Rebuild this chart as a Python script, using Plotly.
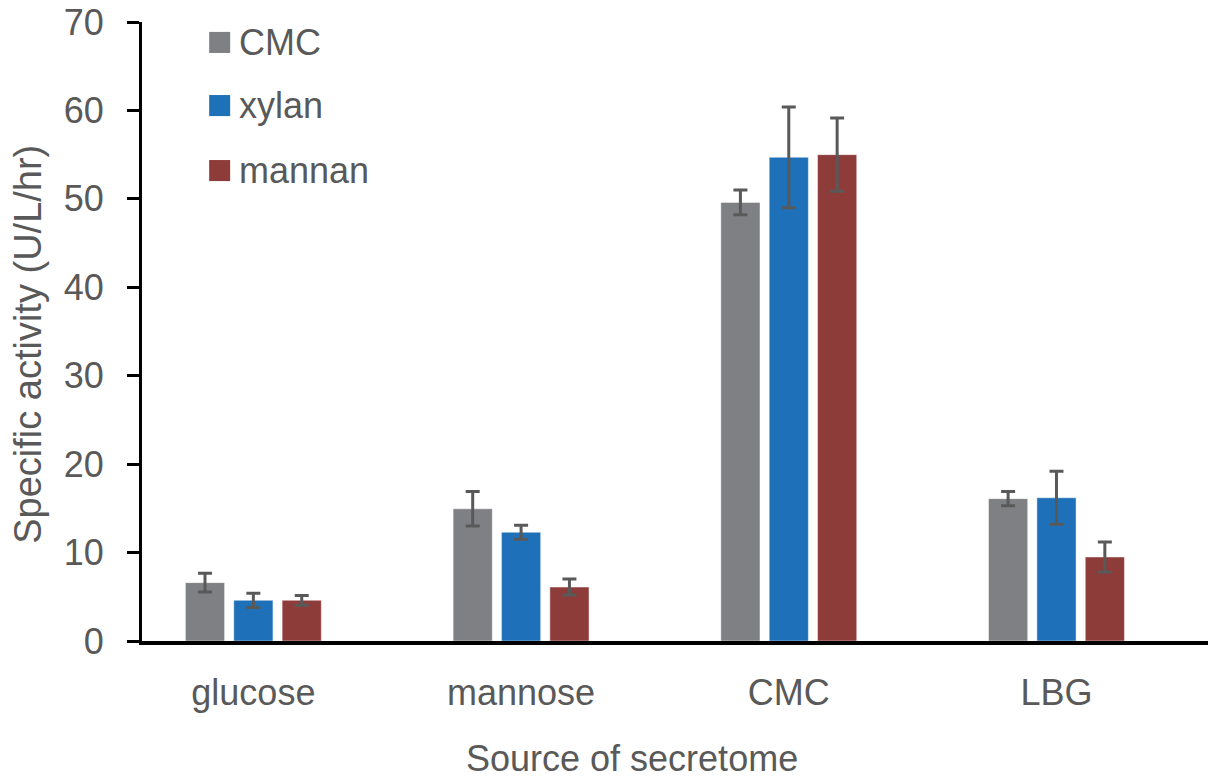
import plotly.graph_objects as go

# Secretome source (x categories) and substrate assayed (series)
sources = ["glucose", "mannose", "CMC", "LBG"]
series_names = ["CMC", "xylan", "mannan"]

cmc_activity = [6.6, 14.95, 49.6, 16.1]
xylan_activity = [4.6, 12.3, 54.7, 16.2]
mannan_activity = [4.6, 6.1, 55.0, 9.5]

cmc_err = [1.05, 1.95, 1.4, 0.8]
xylan_err = [0.8, 0.8, 5.7, 3.0]
mannan_err = [0.55, 0.9, 4.15, 1.7]

y_ticks = [0, 10, 20, 30, 40, 50, 60, 70]

colors = ["#7f8083", "#1e70b8", "#8e3c39"]
text_color = "#595959"
font_family = "Arial, Liberation Sans, sans-serif"

values = [cmc_activity, xylan_activity, mannan_activity]
errors = [cmc_err, xylan_err, mannan_err]

fig = go.Figure()
for name, vals, errs, col in zip(series_names, values, errors, colors):
    fig.add_trace(go.Bar(
        name=name,
        x=sources,
        y=vals,
        marker=dict(color=col, line=dict(color="rgba(255,255,255,0.45)", width=1)),
        error_y=dict(type="data", array=errs, visible=True,
                     color="#595959", thickness=3, width=7),
        showlegend=False,
    ))

# Legend drawn as swatches + labels
legend_y = [0.967, 0.865, 0.76]
for name, col, ly in zip(series_names, colors, legend_y):
    fig.add_shape(type="rect", xref="paper", yref="paper",
                  x0=0.0630, x1=0.0827, y0=ly - 0.0170, y1=ly + 0.0170,
                  fillcolor=col, line=dict(width=0))
    fig.add_annotation(xref="paper", yref="paper", x=0.0895, y=ly,
                       xanchor="left", yanchor="middle", showarrow=False,
                       text=name, font=dict(size=36, color=text_color, family=font_family))

# Axis titles
fig.add_annotation(xref="paper", yref="paper", x=-0.107, y=0.480,
                   xanchor="center", yanchor="middle", showarrow=False,
                   textangle=-90, text="Specific activity (U/L/hr)",
                   font=dict(size=38, color=text_color, family=font_family))
fig.add_annotation(xref="paper", yref="paper", x=0.460, y=-0.190,
                   xanchor="center", yanchor="middle", showarrow=False,
                   text="Source of secretome",
                   font=dict(size=36, color=text_color, family=font_family))

fig.update_layout(
    width=1208, height=782,
    margin=dict(l=142, r=0, t=22, b=141),
    paper_bgcolor="white", plot_bgcolor="white",
    barmode="group", bargap=0.458, bargroupgap=0.19,
    font=dict(family=font_family, size=36, color=text_color),
    xaxis=dict(
        type="category", range=[-0.416, 3.566],
        showline=True, linecolor="black", linewidth=4,
        ticks="", showgrid=False, zeroline=False,
        tickfont=dict(size=36, color=text_color),
        ticklabelstandoff=17,
    ),
    yaxis=dict(
        range=[0, 70], tickvals=y_ticks,
        showline=True, linecolor="black", linewidth=3,
        ticks="outside", ticklen=12, tickwidth=3, tickcolor="black",
        showgrid=False, zeroline=False,
        tickfont=dict(size=36, color=text_color),
        ticklabelstandoff=16,
    ),
)

fig.write_html("out.html")
